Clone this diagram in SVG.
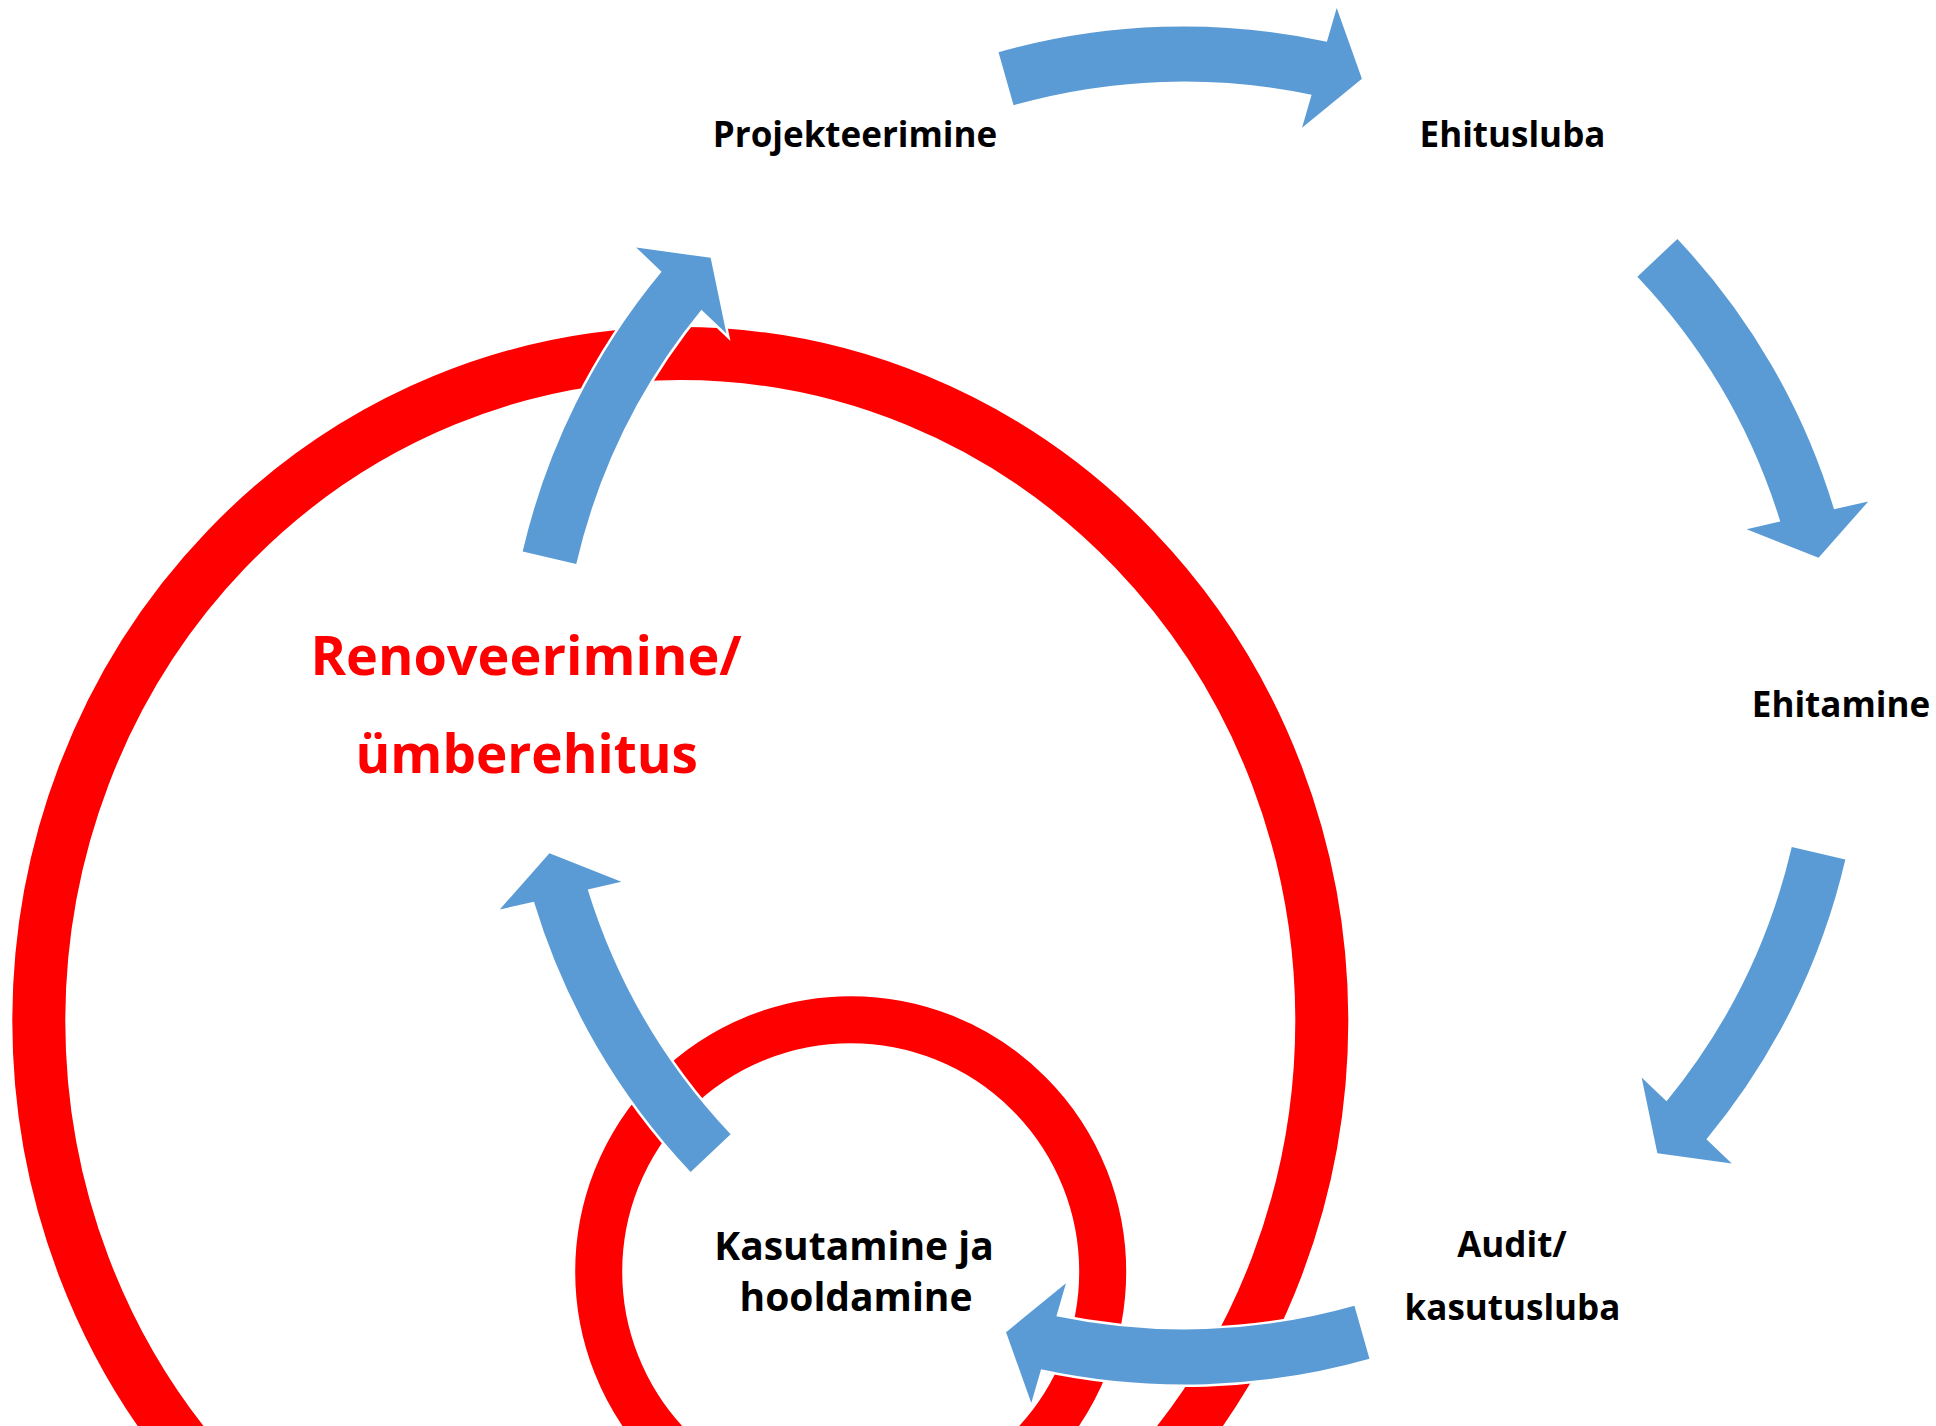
<svg xmlns="http://www.w3.org/2000/svg" width="1936" height="1426" viewBox="0 0 1936 1426">
  <style>
    .lbl { font-family: "Open Sans", "Noto Sans", "Liberation Sans", sans-serif; font-weight: 700; fill: #000000; text-anchor: middle; }
    .red { fill: #FF0000; }
    .ring { fill: none; stroke: #FF0000; }
    .arrow { fill: #5B9BD5; stroke: #FFFFFF; stroke-width: 5; paint-order: stroke; stroke-linejoin: miter; }
  </style>
  <rect x="0" y="0" width="1936" height="1426" fill="#FFFFFF"/>

  <g id="rings">
    <ellipse id="ring-big" class="ring" cx="680.3" cy="1021" rx="641.5" ry="667.5" stroke-width="53"/>
    <circle id="ring-small" class="ring" cx="850.7" cy="1271.7" r="252" stroke-width="47"/>
  </g>

  <g id="connectors">
    <path id="arrow-top" class="arrow" d="M998.55,52.32 A679,679 0 0 1 1326.91,41.71 L1336.71,8.02 L1361.94,78.77 L1302.05,127.84 L1311.61,94.68 A624,624 0 0 0 1013.57,105.22 Z"/>
    <path id="arrow-upper-right" class="arrow" d="M1677.34,238.97 A679,679 0 0 1 1834.02,509.25 L1868.24,501.52 L1818.55,557.84 L1746.62,529.19 L1780.26,521.5 A624,624 0 0 0 1637.38,276.76 Z"/>
    <path id="arrow-lower-right" class="arrow" d="M1845.33,859.39 A679,679 0 0 1 1706.42,1139.22 L1731.76,1163.5 L1657.36,1153.14 L1641.61,1077.4 L1666.56,1101.18 A624,624 0 0 0 1791.76,846.93 Z"/>
    <path id="arrow-bottom" class="arrow" d="M1369.45,1358.68 A679,679 0 0 1 1041.09,1369.29 L1031.29,1402.98 L1006.06,1332.23 L1065.95,1283.16 L1056.39,1316.32 A624,624 0 0 0 1354.43,1305.78 Z"/>
    <path id="arrow-lower-left" class="arrow" d="M690.66,1172.03 A679,679 0 0 1 533.98,901.75 L499.76,909.48 L549.45,853.16 L621.38,881.81 L587.74,889.5 A624,624 0 0 0 730.62,1134.24 Z"/>
    <path id="arrow-upper-left" class="arrow" d="M522.67,551.61 A679,679 0 0 1 661.58,271.78 L636.24,247.5 L710.64,257.86 L726.39,333.6 L701.44,309.82 A624,624 0 0 0 576.24,564.07 Z"/>
  </g>

  <g id="node-projekteerimine">
    <text class="lbl" x="855" y="146.7" font-size="35">Projekteerimine</text>
  </g>
  <g id="node-ehitusluba">
    <text class="lbl" x="1512.5" y="146.7" font-size="35">Ehitusluba</text>
  </g>
  <g id="node-ehitamine">
    <text class="lbl" x="1841" y="716.7" font-size="35">Ehitamine</text>
  </g>
  <g id="node-audit">
    <text class="lbl" x="1512" y="1256.7" font-size="35">Audit/</text>
    <text class="lbl" x="1512.5" y="1320" font-size="35">kasutusluba</text>
  </g>
  <g id="node-kasutamine">
    <text class="lbl" x="854" y="1260" font-size="39">Kasutamine ja</text>
    <text class="lbl" x="856" y="1311" font-size="39">hooldamine</text>
  </g>
  <g id="node-renoveerimine">
    <text class="lbl red" x="526" y="675" font-size="54">Renoveerimine/</text>
    <text class="lbl red" x="526.7" y="773.3" font-size="53">ümberehitus</text>
  </g>
</svg>
